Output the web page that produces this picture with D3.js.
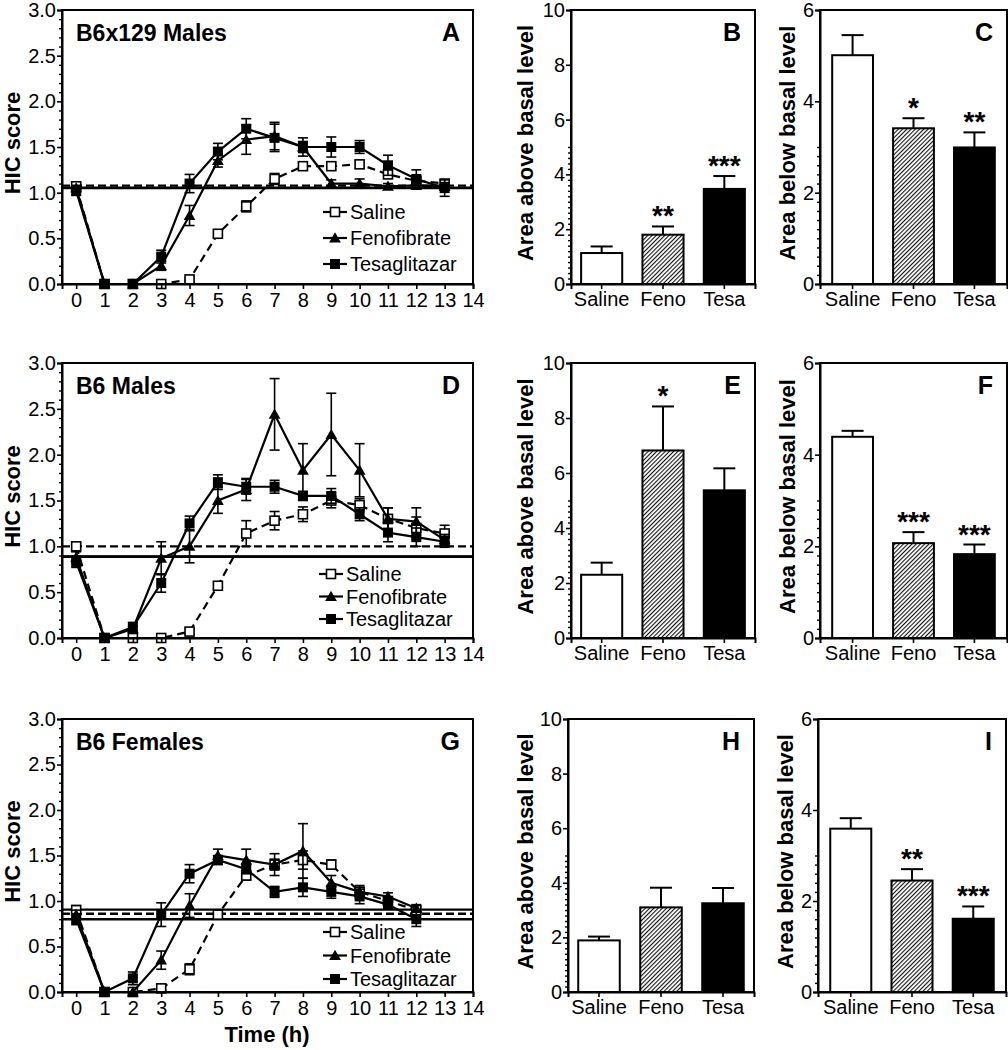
<!DOCTYPE html>
<html><head><meta charset="utf-8">
<script src="https://cdn.jsdelivr.net/npm/d3@7"></script>
<style>
body{margin:0;background:#fff}
svg{display:block}
</style>
</head><body>
<svg id="chart" width="1008" height="1050"></svg>
<script>
// ---------------- DATA ----------------
const seriesNames = ["Saline", "Fenofibrate", "Tesaglitazar"];
const barCategories = ["Saline", "Feno", "Tesa"];
const timeTicks = [0,1,2,3,4,5,6,7,8,9,10,11,12,13,14];
const hicTicks = [0,0.5,1.0,1.5,2.0,2.5,3.0];
const aboveTicks = [0,2,4,6,8,10];
const belowTicks = [0,2,4,6];

const timesAD = [0,1,2,3,4,5,6,7,8,9,10,11,12,13];
const timesG = [0,1,2,3,4,5,6,7,8,9,10,11,12];

// Panel A  (B6x129 Males)
const aSaline    = [1.07,0,0,0,0.05,0.55,0.85,1.15,1.29,1.29,1.31,1.20,1.13,1.10];
const aSalineErr = [0.03,0,0,0,0.02,0.04,0.06,0.06,0.04,0.04,0.04,0.04,0.03,0.04];
const aFeno      = [1.05,0,0,0.20,0.75,1.35,1.58,1.62,1.50,1.10,1.10,1.07,1.08,1.07];
const aFenoErr   = [0.03,0,0,0.05,0.11,0.07,0.16,0.15,0.06,0.04,0.05,0.03,0.04,0.04];
const aTesa      = [1.02,0,0,0.30,1.10,1.45,1.70,1.60,1.50,1.50,1.50,1.30,1.15,1.05];
const aTesaErr   = [0.05,0,0,0.07,0.10,0.09,0.11,0.15,0.10,0.11,0.07,0.11,0.10,0.09];
const aBasal     = [1.077,1.055,1.05];

// Panel D  (B6 Males)
const dSaline    = [1.00,0,0,0,0.07,0.57,1.14,1.28,1.35,1.50,1.45,1.30,1.20,1.14];
const dSalineErr = [0.03,0,0,0,0.03,0.04,0.14,0.10,0.08,0.08,0.07,0.12,0.12,0.09];
const dFeno      = [0.88,0,0.10,0.87,1.00,1.50,1.62,2.44,1.83,2.22,1.83,1.30,1.27,1.07];
const dFenoErr   = [0.06,0,0.03,0.18,0.18,0.14,0.12,0.39,0.29,0.45,0.29,0.12,0.15,0.06];
const dTesa      = [0.83,0,0.12,0.60,1.25,1.70,1.65,1.65,1.55,1.55,1.35,1.15,1.10,1.05];
const dTesaErr   = [0.06,0,0.05,0.10,0.08,0.08,0.08,0.07,0.05,0.08,0.07,0.10,0.10,0.06];
const dBasal     = [1.00,0.886,0.89];

// Panel G  (B6 Females)
const gSaline    = [0.90,0,0,0.04,0.25,0.85,1.28,1.40,1.45,1.40,1.10,1.00,0.90];
const gSalineErr = [0.05,0,0,0.02,0.06,0.05,0.05,0.06,0.10,0.05,0.05,0.04,0.04];
const gFeno      = [0.85,0,0,0.35,0.95,1.50,1.45,1.40,1.55,1.20,1.10,1.05,0.92];
const gFenoErr   = [0.05,0,0,0.10,0.13,0.07,0.12,0.12,0.30,0.08,0.07,0.04,0.04];
const gTesa      = [0.80,0,0.15,0.85,1.30,1.45,1.35,1.10,1.15,1.10,1.05,0.96,0.80];
const gTesaErr   = [0.06,0,0.07,0.13,0.10,0.05,0.05,0.06,0.10,0.07,0.08,0.05,0.08];
const gBasal     = [0.86,0.905,0.80];

// Bar panels
const bMeans = [1.13,1.80,3.47]; const bErr = [0.24,0.30,0.47]; const bStars = ["","**","***"];
const cMeans = [5.01,3.41,2.99]; const cErr = [0.44,0.22,0.33]; const cStars = ["","*","**"];
const eMeans = [2.30,6.82,5.37]; const eErr = [0.44,1.60,0.80]; const eStars = ["","*",""];
const fMeans = [4.39,2.07,1.83]; const fErr = [0.13,0.24,0.21]; const fStars = ["","***","***"];
const hMeans = [1.89,3.10,3.25]; const hErr = [0.14,0.72,0.56]; const hStars = ["","",""];
const iMeans = [3.59,2.45,1.61]; const iErr = [0.23,0.25,0.27]; const iStars = ["","**","***"];

// ---------------- DRAWING ----------------
const FONT = '"Liberation Sans", Arial, Helvetica, sans-serif';
const TICK_FS = 20;
const svg = d3.select("#chart").style("font-family", FONT);

const defs = svg.append("defs");
const pat = defs.append("pattern").attr("id","hatch").attr("patternUnits","userSpaceOnUse")
  .attr("width",3).attr("height",3).attr("patternTransform","rotate(45)");
pat.append("rect").attr("width",3).attr("height",3).attr("fill","#fff");
pat.append("line").attr("x1",0).attr("y1",0).attr("x2",0).attr("y2",3).attr("stroke","#111").attr("stroke-width",2.2);

function styleAxis(sel, fontSize) {
  sel.attr("font-family", FONT).attr("font-size", fontSize);
  sel.select(".domain").attr("stroke","#000").attr("stroke-width",2);
  sel.selectAll(".tick line").attr("stroke","#000").attr("stroke-width",1.6);
  sel.selectAll(".tick text").attr("fill","#000");
}

function drawMarker(g, i, cx, cy) {
  if (i === 0) {
    g.append("rect").attr("x",cx-4.5).attr("y",cy-4.5).attr("width",9).attr("height",9)
      .attr("fill","#fff").attr("stroke","#000").attr("stroke-width",1.6);
  } else if (i === 1) {
    g.append("path").attr("d", d3.symbol(d3.symbolTriangle, 60)())
      .attr("transform",`translate(${cx},${cy+1})`).attr("fill","#000");
  } else {
    g.append("rect").attr("x",cx-5).attr("y",cy-5).attr("width",10).attr("height",10).attr("fill","#000");
  }
}

const LL = 62, LR = 473;

function linePanel(p) {
  const x = d3.scaleLinear().domain([-0.5, 14]).range([LL, LR]);
  const y = d3.scaleLinear().domain([0, 3]).range([p.bottom, p.top]);
  const g = svg.append("g");

  // basal lines
  p.basal.forEach((v, i) => {
    g.append("line").attr("x1",LL).attr("x2",LR).attr("y1",y(v)).attr("y2",y(v))
      .attr("stroke","#000").attr("stroke-width",2.4)
      .attr("stroke-dasharray", i === 0 ? "8,4" : null);
  });

  p.values.forEach((vals, i) => {
    const data = p.times.map((t, j) => ({t, v: vals[j], e: p.errs[i][j]}));
    const line = d3.line().x(d => x(d.t)).y(d => y(d.v));
    g.append("path").datum(data).attr("d", line).attr("fill","none")
      .attr("stroke","#000").attr("stroke-width",2.2)
      .attr("stroke-dasharray", i === 0 ? "8,5" : null);
    const eg = g.append("g").attr("stroke","#000").attr("stroke-width",1.6);
    data.filter(d => d.e > 0).forEach(d => {
      const cx = x(d.t), y1 = y(d.v + d.e), y0 = y(Math.max(0, d.v - d.e));
      eg.append("line").attr("x1",cx).attr("x2",cx).attr("y1",y0).attr("y2",y1);
      eg.append("line").attr("x1",cx-5).attr("x2",cx+5).attr("y1",y1).attr("y2",y1);
      eg.append("line").attr("x1",cx-5).attr("x2",cx+5).attr("y1",y0).attr("y2",y0);
    });
    const mg = g.append("g");
    data.forEach(d => drawMarker(mg, i, x(d.t), y(d.v)));
  });

  // frame
  g.append("rect").attr("x",LL).attr("y",p.top).attr("width",LR-LL).attr("height",p.bottom-p.top)
    .attr("fill","none").attr("stroke","#000").attr("stroke-width",2);

  // axes
  const minor = d3.range(0, 30.5, 1).map(v => v/10).filter(v => Math.round(v*10) % 5 !== 0);
  g.append("g").attr("transform",`translate(${LL},0)`)
    .call(d3.axisLeft(y).tickValues(minor).tickSize(3).tickFormat(""))
    .call(s => { s.select(".domain").remove(); s.selectAll("line").attr("stroke","#000").attr("stroke-width",1.4); });
  g.append("g").attr("transform",`translate(${LL},0)`)
    .call(d3.axisLeft(y).tickValues(hicTicks).tickFormat(d3.format(".1f")).tickSize(5).tickPadding(1))
    .call(s => styleAxis(s, TICK_FS));
  g.append("g").attr("transform",`translate(0,${p.bottom})`)
    .call(d3.axisBottom(x).tickValues(timeTicks).tickFormat(d3.format("d")).tickSize(5).tickPadding(4))
    .call(s => styleAxis(s, TICK_FS));

  // y title
  g.append("text").attr("transform",`translate(20,${(p.top+p.bottom)/2 - 4}) rotate(-90)`)
    .attr("text-anchor","middle").attr("font-weight","bold").attr("font-size",22).text("HIC score");
  // panel title & letter
  g.append("text").attr("x",LL+14).attr("y",p.top+31).attr("font-weight","bold").attr("font-size",23).text(p.title);
  g.append("text").attr("x",LR-13).attr("y",p.top+31).attr("text-anchor","end").attr("font-weight","bold").attr("font-size",25).text(p.letter);

  // legend
  seriesNames.forEach((name, i) => {
    const ly = p.legendY + i * p.legendStep;
    g.append("line").attr("x1",p.legendX).attr("x2",p.legendX+24).attr("y1",ly).attr("y2",ly)
      .attr("stroke","#000").attr("stroke-width",2.2);
    drawMarker(g, i, p.legendX+12, ly);
    g.append("text").attr("x",p.legendX+27).attr("y",ly).attr("dy","0.36em").attr("font-size",TICK_FS).text(name);
  });

  if (p.xTitle) {
    g.append("text").attr("x",267).attr("y",1042).attr("text-anchor","middle")
      .attr("font-weight","bold").attr("font-size",22).text(p.xTitle);
  }
}

function barPanel(p) {
  const x = d3.scaleBand().domain(barCategories).range([p.left, p.right]).paddingInner(0.33).paddingOuter(p.outer);
  const y = d3.scaleLinear().domain([0, p.max]).range([p.bottom, p.top]);
  const g = svg.append("g");
  const fills = ["#fff", "url(#hatch)", "#000"];

  barCategories.forEach((c, i) => {
    const m = p.means[i], e = p.errs[i];
    const cx = x(c) + x.bandwidth()/2;
    g.append("line").attr("x1",cx).attr("x2",cx).attr("y1",y(m)).attr("y2",y(m+e)).attr("stroke","#000").attr("stroke-width",2);
    g.append("line").attr("x1",cx-11).attr("x2",cx+11).attr("y1",y(m+e)).attr("y2",y(m+e)).attr("stroke","#000").attr("stroke-width",2);
    g.append("rect").attr("x",x(c)).attr("y",y(m)).attr("width",x.bandwidth()).attr("height",y(0)-y(m))
      .attr("fill",fills[i]).attr("stroke","#000").attr("stroke-width",2);
    if (p.stars[i]) {
      g.append("text").attr("x",cx).attr("y",y(m+e)-1).attr("text-anchor","middle")
        .attr("font-weight","bold").attr("font-size",28).text(p.stars[i]);
    }
  });

  g.append("rect").attr("x",p.left).attr("y",p.top).attr("width",p.right-p.left).attr("height",p.bottom-p.top)
    .attr("fill","none").attr("stroke","#000").attr("stroke-width",2);

  const minor = d3.range(0, p.max*5 + 0.5, 2).map(v => v/10).filter(v => Math.round(v*10) % 20 !== 0);
  g.append("g").attr("transform",`translate(${p.left},0)`)
    .call(d3.axisLeft(y).tickValues(minor).tickSize(3).tickFormat(""))
    .call(s => { s.select(".domain").remove(); s.selectAll("line").attr("stroke","#000").attr("stroke-width",1.4); });
  g.append("g").attr("transform",`translate(${p.left},0)`)
    .call(d3.axisLeft(y).tickValues(p.ticks).tickFormat(d3.format("d")).tickSize(5).tickPadding(1))
    .call(s => styleAxis(s, TICK_FS));
  g.append("g").attr("transform",`translate(0,${p.bottom})`)
    .call(d3.axisBottom(x).tickSize(5).tickPadding(3))
    .call(s => styleAxis(s, TICK_FS));

  g.append("text").attr("transform",`translate(${p.labelX},${(p.top+p.bottom)/2 - 4}) rotate(-90)`)
    .attr("text-anchor","middle").attr("font-weight","bold").attr("font-size",22).text(p.yLabel);
  g.append("text").attr("x",p.right-14).attr("y",p.top+31).attr("text-anchor","end")
    .attr("font-weight","bold").attr("font-size",25).text(p.letter);
}

const rows = [{top:10,bottom:284},{top:363,bottom:638},{top:719,bottom:992}];

linePanel({top:rows[0].top,bottom:rows[0].bottom,title:"B6x129 Males",letter:"A",times:timesAD,
  values:[aSaline,aFeno,aTesa],errs:[aSalineErr,aFenoErr,aTesaErr],basal:aBasal,
  legendX:323,legendY:212,legendStep:26});
linePanel({top:rows[1].top,bottom:rows[1].bottom,title:"B6 Males",letter:"D",times:timesAD,
  values:[dSaline,dFeno,dTesa],errs:[dSalineErr,dFenoErr,dTesaErr],basal:dBasal,
  legendX:319,legendY:574,legendStep:22.5});
linePanel({top:rows[2].top,bottom:rows[2].bottom,title:"B6 Females",letter:"G",times:timesG,
  values:[gSaline,gFeno,gTesa],errs:[gSalineErr,gFenoErr,gTesaErr],basal:gBasal,
  legendX:323,legendY:932,legendStep:23.5,xTitle:"Time (h)"});

const above = "Area above basal level", below = "Area below basal level";
barPanel({left:571,right:755,...rows[0],max:10,ticks:aboveTicks,means:bMeans,errs:bErr,stars:bStars,letter:"B",yLabel:above,labelX:533,outer:0.165});
barPanel({left:820,right:1007,...rows[0],max:6,ticks:belowTicks,means:cMeans,errs:cErr,stars:cStars,letter:"C",yLabel:below,labelX:795,outer:0.2});
barPanel({left:571,right:755,...rows[1],max:10,ticks:aboveTicks,means:eMeans,errs:eErr,stars:eStars,letter:"E",yLabel:above,labelX:533,outer:0.165});
barPanel({left:820,right:1007,...rows[1],max:6,ticks:belowTicks,means:fMeans,errs:fErr,stars:fStars,letter:"F",yLabel:below,labelX:795,outer:0.2});
barPanel({left:568,right:754,...rows[2],max:10,ticks:aboveTicks,means:hMeans,errs:hErr,stars:hStars,letter:"H",yLabel:above,labelX:533,outer:0.165});
barPanel({left:818,right:1006,...rows[2],max:6,ticks:belowTicks,means:iMeans,errs:iErr,stars:iStars,letter:"I",yLabel:below,labelX:793,outer:0.2});
</script>
</body></html>
